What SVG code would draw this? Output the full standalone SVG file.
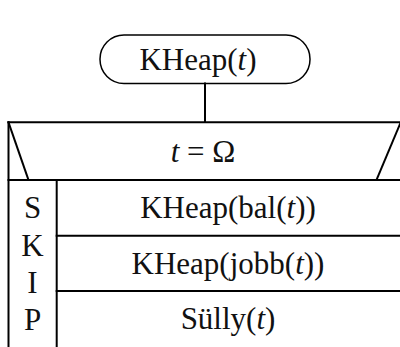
<svg xmlns="http://www.w3.org/2000/svg" width="400" height="347" viewBox="0 0 400 347">
  <style>
    .ln { fill: none; stroke: #000; stroke-width: 2; stroke-linecap: square; }
    .term { fill: #fff; stroke: #000; stroke-width: 1.5; }
    .tx { font-family: "Liberation Serif", "Times New Roman", serif; font-size: 31px; fill: #111; text-anchor: middle; }
    .it { font-style: italic; }
  </style>
  <rect width="400" height="347" fill="#fff"/>

  <!-- start terminal -->
  <g id="start">
    <rect class="term" x="100" y="35" width="210" height="48.5" rx="24" ry="24"/>
    <text class="tx" x="198" y="69.5">KHeap(<tspan class="it">t</tspan>)</text>
  </g>

  <!-- connectors -->
  <g id="connectors">
    <line class="ln" x1="205" y1="83.5" x2="205" y2="122"/>
  </g>

  <!-- selection head: t = Ω -->
  <g id="cond">
    <line class="ln" x1="8.5" y1="122.3" x2="401" y2="122.3"/>
    <line class="ln" x1="8.5" y1="122.3" x2="28.3" y2="179.5"/>
    <line class="ln" x1="400.7" y1="122.3" x2="376.7" y2="179.5"/>
    <line class="ln" x1="8.5" y1="122.3" x2="8.5" y2="348"/>
    <line class="ln" x1="8.5" y1="180" x2="401" y2="180"/>
    <text class="tx" x="203" y="162"><tspan class="it">t</tspan> = Ω</text>
  </g>

  <!-- SKIP branch -->
  <g id="skip">
    <line class="ln" x1="56.7" y1="180" x2="56.7" y2="348"/>
    <text class="tx" x="32.5" y="218">S</text>
    <text class="tx" x="32.5" y="255.5">K</text>
    <text class="tx" x="32.5" y="293">I</text>
    <text class="tx" x="32.5" y="330">P</text>
  </g>

  <!-- recursive calls and sift-down -->
  <g id="left-call">
    <text class="tx" x="228" y="218">KHeap(bal(<tspan class="it">t</tspan>))</text>
    <line class="ln" x1="56.7" y1="235.7" x2="401" y2="235.7"/>
  </g>
  <g id="right-call">
    <text class="tx" x="228" y="274">KHeap(jobb(<tspan class="it">t</tspan>))</text>
    <line class="ln" x1="56.7" y1="291" x2="401" y2="291"/>
  </g>
  <g id="sift">
    <text class="tx" x="228" y="329">Sülly(<tspan class="it">t</tspan>)</text>
  </g>
</svg>
